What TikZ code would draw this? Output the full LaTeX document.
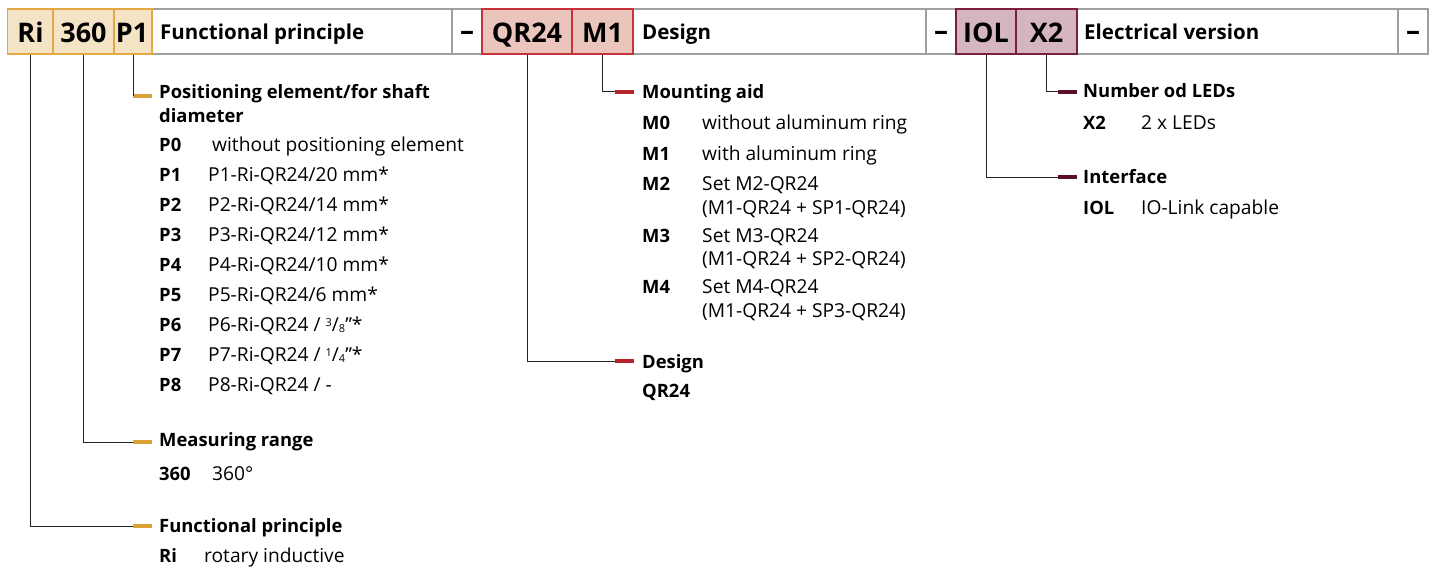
\documentclass[tikz,border=0pt]{standalone}
\usepackage{fontspec}
\setmainfont{Open Sans}
\definecolor{goldfill}{HTML}{F5E3C6}
\definecolor{goldline}{HTML}{E2A845}
\definecolor{goldbar}{HTML}{D9A033}
\definecolor{redfill}{HTML}{EAC5BC}
\definecolor{redline}{HTML}{C8323A}
\definecolor{redbar}{HTML}{B5232B}
\definecolor{purfill}{HTML}{D5B6BE}
\definecolor{purline}{HTML}{7D1D3F}
\definecolor{purbar}{HTML}{5C0F2B}
\definecolor{cellgrey}{HTML}{A0A0A0}
\definecolor{conncol}{HTML}{222222}
\newcommand{\fs}[1]{\fontsize{#1}{#1}\selectfont}
\newcommand{\sfrac}[2]{\raisebox{4.5pt}{\fs{11}#1}/\raisebox{-1pt}{\fs{11}#2}}
\begin{document}
\begin{tikzpicture}[x=1pt,y=-1pt,
  cell/.style={draw=cellgrey,line width=1.4pt,fill=white},
  codebox/.style={rectangle,minimum height=45pt,inner sep=0pt,line width=1.2pt},
  goldbox/.style={codebox,fill=goldfill,draw=goldline},
  redbox/.style={codebox,fill=redfill,draw=redline},
  purbox/.style={codebox,fill=purfill,draw=purline},
  code/.style={anchor=base,inner sep=0pt,font=\fs{27}\bfseries},
  head/.style={anchor=base west,inner sep=0pt,font=\fs{20.5}\bfseries},
  dashtxt/.style={anchor=center,inner sep=0pt,font=\fs{28}\bfseries},
  bar/.style={rectangle,minimum width=19pt,minimum height=4.3pt,inner sep=0pt,anchor=west},
  gbar/.style={bar,fill=goldbar},
  rbar/.style={bar,fill=redbar},
  pbar/.style={bar,fill=purbar},
  conn/.style={draw=conncol,line width=1pt},
  lab/.style={anchor=base west,inner sep=0pt,font=\fs{18.4}\bfseries},
  val/.style={anchor=base west,inner sep=0pt,font=\fs{19.2}},
]
\useasboundingbox (0,0) rectangle (1434,567);
% header cells
\draw[cell] (152,9) rectangle (452,54);
\draw[cell] (452,9) rectangle (482,54);
\draw[cell] (633,9) rectangle (926,54);
\draw[cell] (926,9) rectangle (956,54);
\draw[cell] (1077,9) rectangle (1398,54);
\draw[cell] (1398,9) rectangle (1428,54);
% code boxes
\node[goldbox,minimum width=45.5pt] (bri) at (30.25,31.5) {};
\node[goldbox,minimum width=61pt] (b360) at (83.5,31.5) {};
\node[goldbox,minimum width=38pt] (bp1) at (133,31.5) {};
\node[redbox,minimum width=90pt] (bqr) at (527,31.5) {};
\node[redbox,minimum width=61pt] (bm1) at (602.5,31.5) {};
\node[purbox,minimum width=60pt] (biol) at (986,31.5) {};
\node[purbox,minimum width=61pt] (bx2) at (1046.5,31.5) {};
\node[code] (tri) at (30.5,43) {Ri};
\node[code] (t360) at (83.5,43) {360};
\node[code] (tp1) at (132,43) {P1};
\node[code] (tqr) at (527,43) {QR24};
\node[code] (tm1) at (602.5,43) {M1};
\node[code] (tiol) at (986,43) {IOL};
\node[code] (tx2) at (1046.5,43) {X2};
\node[head] (h1) at (160,40) {Functional principle};
\node[head] (h2) at (642,40) {Design};
\node[head] (h3) at (1084,40) {Electrical version};
\node[dashtxt] (d1) at (467,36) {–};
\node[dashtxt] (d2) at (941,36) {–};
\node[dashtxt] (d3) at (1413,36) {–};
% bars
\node[gbar] (barpos) at (133,96) {};
\node[gbar] (barmr) at (133,442) {};
\node[gbar] (barfp) at (133,526) {};
\node[rbar] (barma) at (615,92) {};
\node[rbar] (bards) at (615,361) {};
\node[pbar] (barled) at (1058,92) {};
\node[pbar] (barif) at (1058,177) {};
% connectors
\draw[conn] (bp1.south) -- (barpos.west);
\draw[conn] (b360.south) |- (barmr.west);
\draw[conn] (bri.south) |- (barfp.west);
\draw[conn] (bm1.south) |- (barma.west);
\draw[conn] (bqr.south) |- (bards.west);
\draw[conn] (bx2.south) |- (barled.west);
\draw[conn] (biol.south) |- (barif.west);
% left texts
\node[lab] (lpos) at (159,99) {Positioning element/for shaft};
\node[lab] (lpos2) at (159,123) {diameter};
\node[lab] (lp0) at (159,151) {P0};  \node[val] (vp0) at (212,151) {without positioning element};
\node[lab] (lp1) at (159,181) {P1};  \node[val] (vp1) at (208,181) {P1-Ri-QR24/20 mm*};
\node[lab] (lp2) at (159,211) {P2};  \node[val] (vp2) at (208,211) {P2-Ri-QR24/14 mm*};
\node[lab] (lp3) at (159,241) {P3};  \node[val] (vp3) at (208,241) {P3-Ri-QR24/12 mm*};
\node[lab] (lp4) at (159,271) {P4};  \node[val] (vp4) at (208,271) {P4-Ri-QR24/10 mm*};
\node[lab] (lp5) at (159,301) {P5};  \node[val] (vp5) at (208,301) {P5-Ri-QR24/6 mm*};
\node[lab] (lp6) at (159,331) {P6};  \node[val] (vp6) at (208,331) {P6-Ri-QR24 / \sfrac{3}{8}"*};
\node[lab] (lp7) at (159,361) {P7};  \node[val] (vp7) at (208,361) {P7-Ri-QR24 / \sfrac{1}{4}"*};
\node[lab] (lp8) at (159,391) {P8};  \node[val] (vp8) at (208,391) {P8-Ri-QR24 / -};
\node[lab] (lmr) at (159,446) {Measuring range};
\node[lab] (l360) at (159,480) {360}; \node[val] (v360) at (212,480) {360°};
\node[lab] (lfp) at (159,532) {Functional principle};
\node[lab] (lri) at (159,562) {Ri}; \node[val] (vri) at (204,562) {rotary inductive};
% middle texts
\node[lab] (lma) at (642,99) {Mounting aid};
\node[lab] (lm0) at (642,130) {M0}; \node[val] (vm0) at (702,130) {without aluminum ring};
\node[lab] (lm1) at (642,160) {M1}; \node[val] (vm1) at (702,160) {with aluminum ring};
\node[lab] (lm2) at (642,190) {M2}; \node[val] (vm2) at (702,190) {Set M2-QR24};
\node[val] (vm2b) at (702,214) {(M1-QR24 + SP1-QR24)};
\node[lab] (lm3) at (642,242) {M3}; \node[val] (vm3) at (702,242) {Set M3-QR24};
\node[val] (vm3b) at (702,265) {(M1-QR24 + SP2-QR24)};
\node[lab] (lm4) at (642,293) {M4}; \node[val] (vm4) at (702,293) {Set M4-QR24};
\node[val] (vm4b) at (702,317) {(M1-QR24 + SP3-QR24)};
\node[lab] (lds) at (642,368) {Design};
\node[lab] (lqr) at (642,397) {QR24};
% right texts
\node[lab] (lled) at (1083,98) {Number od LEDs};
\node[lab] (lx2) at (1083,130) {X2}; \node[val] (vx2) at (1141,130) {2 x LEDs};
\node[lab] (lif) at (1083,183) {Interface};
\node[lab] (liol) at (1083,214) {IOL}; \node[val] (viol) at (1141,214) {IO-Link capable};
\end{tikzpicture}
\end{document}
